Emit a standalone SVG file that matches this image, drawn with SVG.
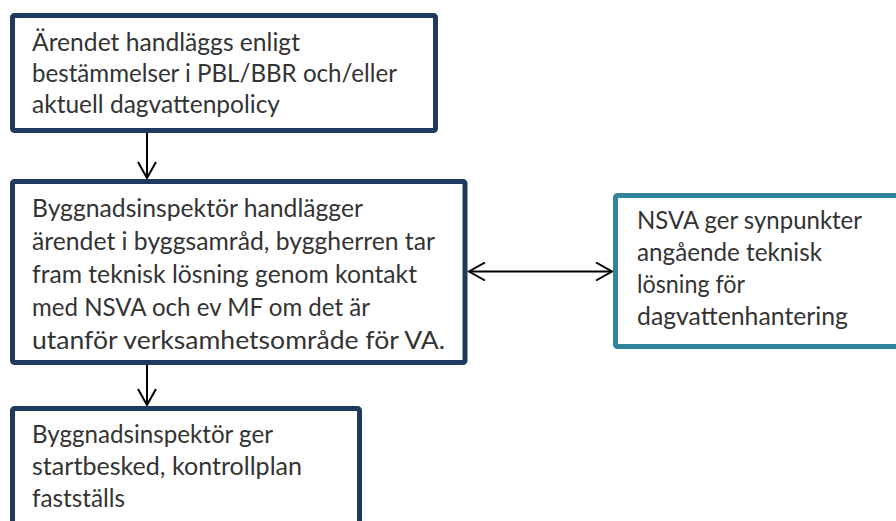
<svg xmlns="http://www.w3.org/2000/svg" width="896" height="521" viewBox="0 0 896 521">
  <style>
    .box { fill: #ffffff; stroke: #1f3a5f; stroke-width: 5; }
    .box-alt { fill: #ffffff; stroke: #31849b; stroke-width: 5; }
    .label { font-family: Lato, "Liberation Sans", sans-serif; font-size: 25px; fill: #333333; }
    .link { fill: none; stroke: #000000; stroke-width: 2; }
  </style>
  <defs>
    <marker id="open-arrow" viewBox="0 0 20 20" refX="18" refY="10" markerWidth="20" markerHeight="20" markerUnits="userSpaceOnUse" orient="auto-start-reverse">
      <path d="M2,1 L18,10 L2,19" fill="none" stroke="#000000" stroke-width="2"/>
    </marker>
  </defs>
  <rect width="896" height="521" fill="#ffffff"/>

  <g id="connectors">
    <line class="link" x1="147" y1="133" x2="147" y2="178" marker-end="url(#open-arrow)"/>
    <line class="link" x1="147" y1="365" x2="147" y2="405" marker-end="url(#open-arrow)"/>
    <line class="link" x1="469" y1="271.5" x2="612" y2="271.5" marker-start="url(#open-arrow)" marker-end="url(#open-arrow)"/>
  </g>

  <g id="node-arende">
    <rect class="box" x="12.5" y="15.5" width="423" height="115" rx="2"/>
    <text class="label" x="32" y="51" textLength="268" lengthAdjust="spacingAndGlyphs">Ärendet handläggs enligt</text>
    <text class="label" x="32" y="82" textLength="365" lengthAdjust="spacingAndGlyphs">bestämmelser i PBL/BBR och/eller</text>
    <text class="label" x="32" y="113" textLength="248" lengthAdjust="spacingAndGlyphs">aktuell dagvattenpolicy</text>
  </g>

  <g id="node-byggsamrad">
    <rect class="box" x="12.5" y="181.5" width="452.5" height="181" rx="2"/>
    <text class="label" x="32" y="217" textLength="331" lengthAdjust="spacingAndGlyphs">Byggnadsinspektör handlägger</text>
    <text class="label" x="32" y="250" textLength="403" lengthAdjust="spacingAndGlyphs">ärendet i byggsamråd, byggherren tar</text>
    <text class="label" x="32" y="283" textLength="385" lengthAdjust="spacingAndGlyphs">fram teknisk lösning genom kontakt</text>
    <text class="label" x="32" y="316" textLength="338" lengthAdjust="spacingAndGlyphs">med NSVA och ev MF om det är</text>
    <text class="label" x="32" y="349" textLength="413" lengthAdjust="spacingAndGlyphs">utanför verksamhetsområde för VA.</text>
  </g>

  <g id="node-nsva">
    <rect class="box-alt" x="615.5" y="195.5" width="300" height="151" rx="2"/>
    <text class="label" x="637" y="229" textLength="225" lengthAdjust="spacingAndGlyphs">NSVA ger synpunkter</text>
    <text class="label" x="637" y="261" textLength="185" lengthAdjust="spacingAndGlyphs">angående teknisk</text>
    <text class="label" x="637" y="293" textLength="108" lengthAdjust="spacingAndGlyphs">lösning för</text>
    <text class="label" x="637" y="325" textLength="211" lengthAdjust="spacingAndGlyphs">dagvattenhantering</text>
  </g>

  <g id="node-startbesked">
    <rect class="box" x="12.5" y="408.5" width="347" height="140" rx="2"/>
    <text class="label" x="32" y="443" textLength="241" lengthAdjust="spacingAndGlyphs">Byggnadsinspektör ger</text>
    <text class="label" x="32" y="475" textLength="270" lengthAdjust="spacingAndGlyphs">startbesked, kontrollplan</text>
    <text class="label" x="32" y="507" textLength="93" lengthAdjust="spacingAndGlyphs">fastställs</text>
  </g>
</svg>
